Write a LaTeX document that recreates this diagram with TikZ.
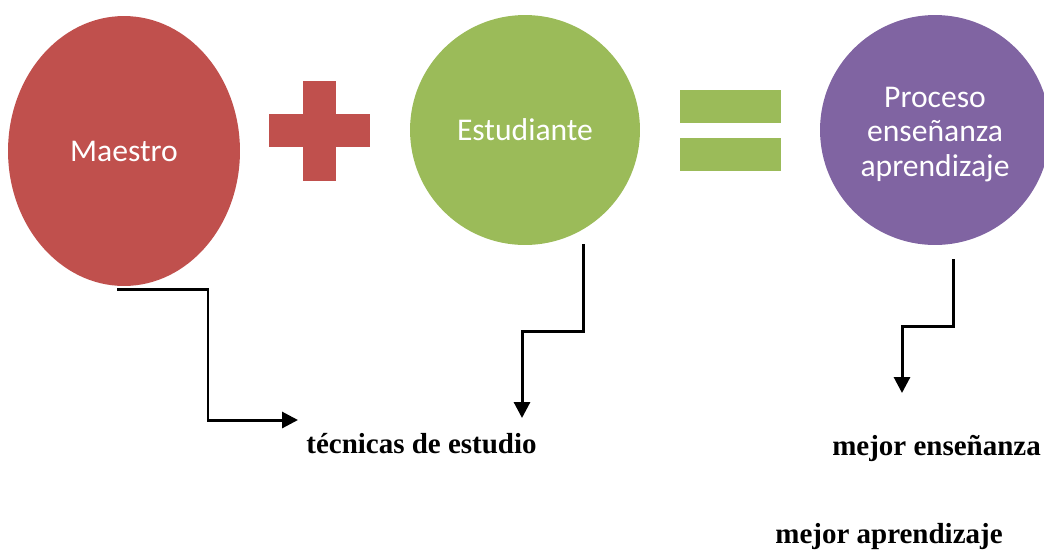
\documentclass[tikz,border=0pt]{standalone}
\usepackage{fontspec}
\setmainfont{Liberation Serif}
\newfontfamily\circfont{Carlito}
\usetikzlibrary{shapes.geometric, arrows.meta, positioning, calc}
\definecolor{maered}{RGB}{192, 80, 77}
\definecolor{estgreen}{RGB}{155, 187, 89}
\definecolor{procpurple}{RGB}{128, 100, 162}

\begin{document}
\begin{tikzpicture}[x=0.02cm, y=-0.02cm,
  blob/.style={ellipse, inner sep=0pt, text=white, align=center,
    font=\circfont\fontsize{18}{19.5}\selectfont},
  conn/.style={line width=1.7pt, -{Triangle[length=9pt, width=9pt]}},
  result/.style={font=\bfseries\fontsize{16.5}{20}\selectfont, anchor=base}]
  \clip (0,0) rectangle (1044,549);

  % Maestro + Estudiante = Proceso
  \node[blob, fill=maered, minimum width=4.64cm, minimum height=5.4cm] (maestro) at (124,151) {Maestro};
  \fill[maered] (303,81) rectangle (336,181);
  \fill[maered] (269,114) rectangle (370,147);
  \node[blob, fill=estgreen, minimum size=4.6cm] (estudiante) at (525,130) {Estudiante};
  \fill[estgreen] (680,90) rectangle (781,123);
  \fill[estgreen] (680,138) rectangle (781,171);
  \node[blob, fill=procpurple, minimum size=4.6cm] (proceso) at (935,130)
    {\raisebox{-0.1cm}[\height][\depth]{\begin{tabular}{@{}c@{}}Proceso\\enseñanza\\aprendizaje\end{tabular}}};

  % results
  \node[result] (tecnicas) at (421.5,453) {técnicas de estudio};
  \node[result] (ensenanza) at (936.5,455) {mejor enseñanza};
  \node[result] (aprendizaje) at (889,543) {mejor aprendizaje};

  % connectors
  \coordinate (maeend) at (298,420);
  \coordinate (estend) at (522,418);
  \coordinate (procend) at (902,393);
  \draw[conn] ($(maestro.south)+(-7,3)$) -- ++(91,0) |- (maeend);
  \draw[conn] ($(estudiante.south)+(58,-1)$) -- ++(0,87) -| (estend);
  \draw[conn] ($(proceso.south)+(18,14)$) -- ++(0,67) -| (procend);
\end{tikzpicture}
\end{document}
